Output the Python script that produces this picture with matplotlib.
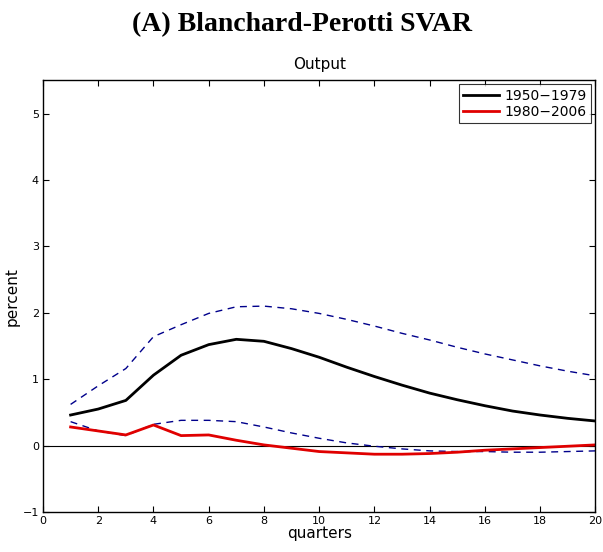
import numpy as np
import matplotlib
matplotlib.use("Agg")
import matplotlib.pyplot as plt

quarters = np.arange(1, 21)
irf_5079 = [0.46, 0.55, 0.68, 1.06, 1.36, 1.52, 1.60, 1.57, 1.46, 1.33,
            1.18, 1.04, 0.91, 0.79, 0.69, 0.60, 0.52, 0.46, 0.41, 0.37]
band_hi = [0.62, 0.90, 1.16, 1.64, 1.82, 1.99, 2.09, 2.10, 2.06, 1.99,
           1.90, 1.80, 1.69, 1.59, 1.48, 1.38, 1.29, 1.20, 1.12, 1.05]
band_lo = [0.36, 0.22, 0.15, 0.32, 0.38, 0.38, 0.36, 0.28, 0.19, 0.11,
           0.04, -0.01, -0.05, -0.08, -0.09, -0.09, -0.10, -0.10, -0.09, -0.08]
irf_8006 = [0.28, 0.22, 0.16, 0.31, 0.15, 0.16, 0.08, 0.01, -0.04, -0.09,
            -0.11, -0.13, -0.13, -0.12, -0.10, -0.07, -0.05, -0.03, -0.01, 0.01]
xticks = np.arange(0, 21, 2)
yticks = np.arange(-1, 6)

fig = plt.figure(figsize=(6.03, 5.52), dpi=100)
ax = fig.add_axes([0.0713, 0.0725, 0.916, 0.782])

ax.axhline(0, color="black", lw=0.8)
ax.plot(quarters, band_hi, color="#00008b", lw=1.0, ls=(0, (5, 4)))
ax.plot(quarters, band_lo, color="#00008b", lw=1.0, ls=(0, (5, 4)))
ax.plot(quarters, irf_5079, color="black", lw=2.0, label="1950\u22121979")
ax.plot(quarters, irf_8006, color="#e00000", lw=2.0, label="1980\u22122006")

ax.set_xlim(0, 20)
ax.set_ylim(-1, 5.5)
ax.set_xticks(xticks)
ax.set_yticks(yticks)
ax.tick_params(direction="in", top=True, right=True, labelsize=8, length=4, pad=3)
for s in ax.spines.values():
    s.set_linewidth(1.0)

ax.set_xlabel("quarters", fontsize=11, labelpad=0)
ax.set_ylabel("percent", fontsize=11, labelpad=2)
ax.set_title("Output", fontsize=11, pad=8)
leg = ax.legend(loc="upper right", fontsize=10, frameon=True, fancybox=False,
                edgecolor="black", handlelength=2.6, handletextpad=0.4,
                borderaxespad=0.3, labelspacing=0.15, borderpad=0.3)
leg.get_frame().set_linewidth(0.8)

fig.text(0.5, 0.955, "(A) Blanchard-Perotti SVAR", ha="center", va="center",
         fontsize=20, fontweight="bold", family="Liberation Serif")

fig.savefig("out.png", dpi=100)
